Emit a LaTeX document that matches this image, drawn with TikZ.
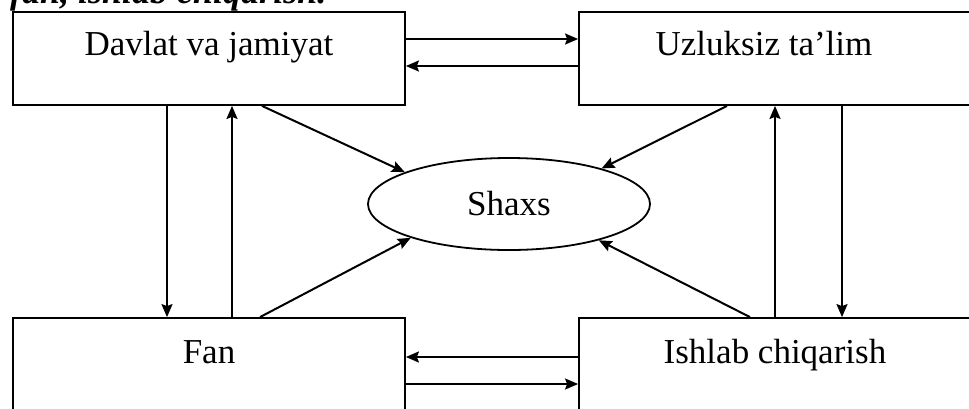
\documentclass[tikz,border=0pt]{standalone}
\usepackage{fontspec}
\setmainfont{Liberation Serif}
\usetikzlibrary{shapes.geometric,arrows.meta}
\begin{document}
\begin{tikzpicture}[x=1pt,y=-1pt,
  box/.style={draw, line width=1.8pt, minimum width=392pt, minimum height=93pt, inner sep=0pt, font=\fontsize{35}{40}\selectfont},
  conn/.style={line width=2pt, -{Stealth[length=13pt,width=11pt,inset=2pt]}}]
\useasboundingbox (0,0) rectangle (969,408);
\clip (0,0) rectangle (969,408);
\fill[white] (0,0) rectangle (969,408);
% cut-off heading
\node[anchor=base west, inner sep=0pt, font=\fontsize{36}{40}\selectfont\bfseries\itshape] (head) at (10,3) {fan, ishlab chiqarish.};
% boxes
\node[box, text height=10pt, text depth=17pt] (tl) at (209,58.5) {Davlat va jamiyat};
\node[box, minimum width=400pt, text height=10pt, text depth=17pt] (tr) at (779,58.5) {\hspace*{-30pt}Uzluksiz ta'lim};
\node[box, text height=10pt, text depth=13pt] (bl) at (209,364.5) {Fan};
\node[box, minimum width=400pt, text height=10pt, text depth=13pt] (br) at (779,364.5) {\hspace*{-8pt}Ishlab chiqarish};
% ellipse
\node[draw, ellipse, line width=1.8pt, minimum width=282pt, minimum height=92pt, inner sep=0pt, font=\fontsize{35}{40}\selectfont] (sh) at (509,204) {Shaxs};
% horizontal connectors
\coordinate (ya) at (0,39);
\coordinate (yb) at (0,66);
\coordinate (yc) at (0,357);
\coordinate (yd) at (0,384);
\draw[conn] (tl.east |- ya) -- (tr.west |- ya);
\draw[conn] (tr.west |- yb) -- (tl.east |- yb);
\draw[conn] (br.west |- yc) -- (bl.east |- yc);
\draw[conn] (bl.east |- yd) -- (br.west |- yd);
% vertical connectors
\coordinate (xa) at (167,0);
\coordinate (xb) at (232,0);
\coordinate (xc) at (775,0);
\coordinate (xd) at (842,0);
\draw[conn] (xa |- tl.south) -- (xa |- bl.north);
\draw[conn] (xb |- bl.north) -- (xb |- tl.south);
\draw[conn] (xc |- br.north) -- (xc |- tr.south);
\draw[conn] (xd |- tr.south) -- (xd |- br.north);
% diagonal connectors
\coordinate (xe) at (262,0);
\coordinate (xf) at (727,0);
\coordinate (xg) at (260,0);
\coordinate (xh) at (750,0);
\draw[conn] (xe |- tl.south) -- (sh.163);
\draw[conn] (xf |- tr.south) -- (sh.21);
\draw[conn] (xg |- bl.north) -- (sh.199);
\draw[conn] (xh |- br.north) -- (sh.338);
\end{tikzpicture}
\end{document}
